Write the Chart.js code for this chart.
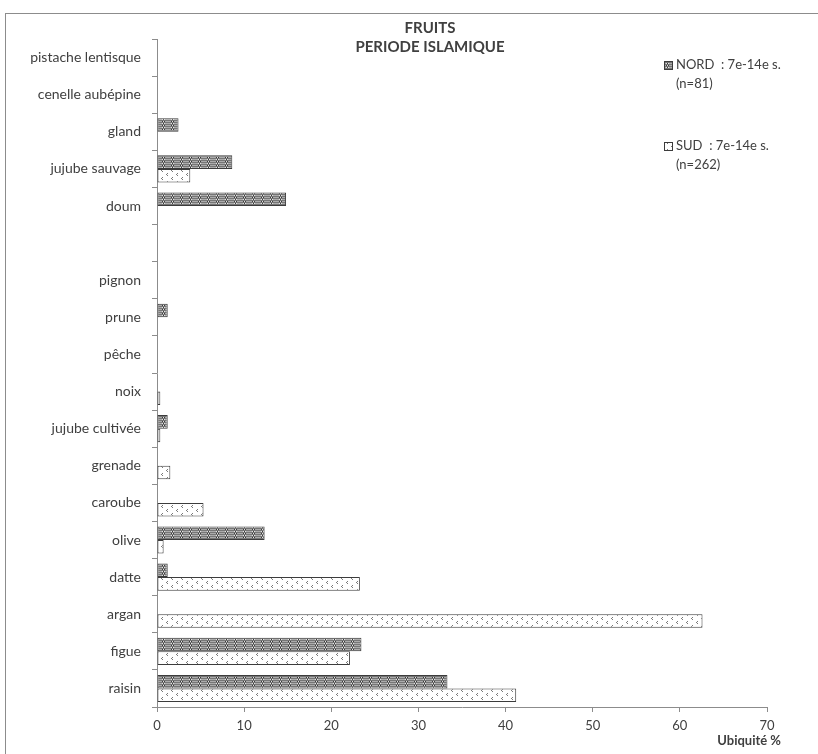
<!DOCTYPE html>
<html>
<head>
<meta charset="utf-8">
<script src="https://cdn.jsdelivr.net/npm/chart.js@4/dist/chart.umd.min.js"></script>
<style>
    html, body { margin: 0; padding: 0; background: #ffffff; }
    #fruitsChart { display: block; }
</style>
</head>
<body>
<canvas id="fruitsChart" width="818" height="754"></canvas>
<script>
// Ubiquity (%) of fruit remains, Islamic period
const categories = ['pistache lentisque', 'cenelle aubépine', 'gland', 'jujube sauvage', 'doum', '',
    'pignon', 'prune', 'pêche', 'noix', 'jujube cultivée', 'grenade', 'caroube', 'olive', 'datte',
    'argan', 'figue', 'raisin'];
const nordValues = [0, 0, 2.47, 8.64, 14.81, null, 0, 1.23, 0, 0, 1.23, 0, 0, 12.35, 1.23, 0, 23.46, 33.33];
const sudValues = [0, 0, 0, 3.82, 0, null, 0, 0, 0, 0.38, 0.38, 1.53, 5.34, 0.76, 23.28, 62.6, 22.14, 41.22];
const seriesNames = ['NORD  : 7e-14e s.', 'SUD  : 7e-14e s.'];
const seriesCounts = ['(n=81)', '(n=262)'];
const titleLines = ['FRUITS', 'PERIODE ISLAMIQUE'];
const axisTitle = 'Ubiquité %';
const xMin = 0;
const xMax = 70;
const xStep = 10;

const textColor = '#404040';
const axisColor = '#8c8c8c';
const fontFamily = 'Lato, "Open Sans", sans-serif';

Chart.defaults.font.family = fontFamily;
Chart.defaults.color = textColor;

function makeNordPattern() {
    const c = document.createElement('canvas');
    c.width = 9;
    c.height = 4;
    const g = c.getContext('2d');
    g.fillStyle = '#ababab';
    g.fillRect(0, 0, 9, 4);
    g.fillStyle = '#767676';
    g.fillRect(0, 0, 9, 1);
    g.fillRect(0, 2, 9, 1);
    // small checker column
    g.fillStyle = '#3a3a3a';
    g.fillRect(0, 1, 1, 1);
    g.fillRect(2, 1, 1, 1);
    g.fillRect(1, 3, 1, 1);
    g.fillStyle = '#e6e6e6';
    g.fillRect(1, 1, 1, 1);
    g.fillRect(0, 3, 1, 1);
    g.fillRect(2, 3, 1, 1);
    return g.createPattern(c, 'repeat');
}

function makeSudPattern() {
    const c = document.createElement('canvas');
    c.width = 10;
    c.height = 8;
    const g = c.getContext('2d');
    g.fillStyle = '#ffffff';
    g.fillRect(0, 0, 10, 8);
    g.fillStyle = '#7a7a7a';
    g.fillRect(2, 1, 1, 1);
    g.fillRect(1, 2, 1, 1);
    g.fillRect(2, 3, 1, 1);
    g.fillRect(7, 5, 1, 1);
    g.fillRect(6, 6, 1, 1);
    g.fillRect(7, 7, 1, 1);
    return g.createPattern(c, 'repeat');
}

const nordFill = makeNordPattern();
const sudFill = makeSudPattern();

const frameAndTexts = {
    id: 'frameAndTexts',
    beforeDraw(chart) {
        const ctx = chart.ctx;
        ctx.save();
        ctx.strokeStyle = '#8c8c8c';
        ctx.lineWidth = 1;
        ctx.strokeRect(5.5, 13.5, 900, 900);
        ctx.restore();
    },
    afterDraw(chart) {
        const ctx = chart.ctx;
        ctx.save();
        ctx.fillStyle = textColor;
        ctx.textAlign = 'center';
        ctx.textBaseline = 'middle';
        ctx.font = 'bold 15px ' + fontFamily;
        titleLines.forEach(function (line, i) {
            ctx.fillText(line, 430, 28 + i * 19);
        });

        // axis title sits past the end of the x axis
        ctx.textAlign = 'right';
        ctx.font = 'bold 13px ' + fontFamily;
        ctx.fillText(axisTitle, 781, 741);

        // legend, two lines per series
        ctx.font = '13px ' + fontFamily;
        ctx.textAlign = 'left';
        const legendY = [65, 146];
        chart.data.datasets.forEach(function (ds, i) {
            const y = legendY[i];
            ctx.fillStyle = ds.backgroundColor;
            ctx.fillRect(664, y - 4, 8, 8);
            ctx.strokeStyle = '#3c3c3c';
            ctx.strokeRect(664.5, y - 3.5, 8, 8);
            ctx.fillStyle = textColor;
            ctx.fillText(seriesNames[i], 676, y);
            ctx.fillText(seriesCounts[i], 676, y + 19);
        });
        ctx.restore();
    }
};

const barBorder = function (c) { return c.raw ? 1 : 0; };

const data = {
    labels: categories,
    datasets: [
        {
            label: seriesNames[0],
            data: nordValues,
            backgroundColor: nordFill,
            borderColor: '#3c3c3c',
            borderWidth: barBorder,
            borderSkipped: false,
            categoryPercentage: 0.73,
            barPercentage: 1
        },
        {
            label: seriesNames[1],
            data: sudValues,
            backgroundColor: sudFill,
            borderColor: '#3c3c3c',
            borderWidth: barBorder,
            borderSkipped: false,
            categoryPercentage: 0.73,
            barPercentage: 1
        }
    ]
};

const options = {
    indexAxis: 'y',
    responsive: false,
    animation: false,
    devicePixelRatio: 1,
    layout: {
        padding: { top: 39, right: 51, left: 0, bottom: 0 }
    },
    plugins: {
        legend: { display: false },
        title: { display: false },
        tooltip: { enabled: false }
    },
    scales: {
        x: {
            min: xMin,
            max: xMax,
            afterFit: function (scale) { scale.height = 47; },
            ticks: {
                stepSize: xStep,
                padding: 6,
                font: { size: 13 },
                color: textColor
            },
            grid: {
                drawOnChartArea: false,
                tickLength: 5,
                color: axisColor
            },
            border: { color: axisColor }
        },
        y: {
            afterFit: function (scale) { scale.width = 157; },
            ticks: {
                padding: 11,
                font: { size: 14 },
                color: textColor,
                autoSkip: false
            },
            grid: {
                drawOnChartArea: false,
                offset: true,
                tickLength: 5,
                color: axisColor
            },
            border: { color: axisColor }
        }
    }
};

new Chart(document.getElementById('fruitsChart').getContext('2d'), {
    type: 'bar',
    data: data,
    options: options,
    plugins: [frameAndTexts]
});
</script>
</body>
</html>
